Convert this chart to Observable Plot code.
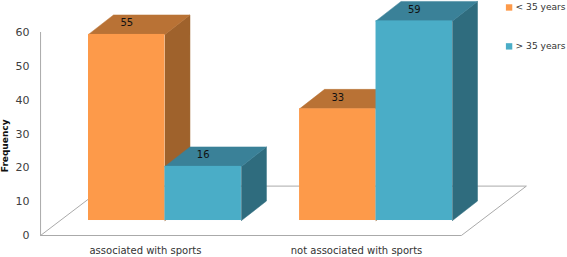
<!DOCTYPE html>
<html><head><meta charset="utf-8">
<script src="https://cdn.jsdelivr.net/npm/d3@7"></script>
<script src="https://cdn.jsdelivr.net/npm/@observablehq/plot@0.6"></script>
<style>html,body{margin:0;padding:0;background:#fff}svg{display:block}</style>
</head><body><div id="chart"></div>
<script>
const categories = ["associated with sports", "not associated with sports"];
const seriesNames = ["< 35 years", "> 35 years"];
const under35 = [55, 33];
const over35 = [16, 59];
const faceColors = ["#FD9A4A", "#4AADC7"];
const topColors = ["#B97235", "#3A8198"];
const sideColors = ["#9F622C", "#2F6C7E"];
const groupStarts = [0, 2.76];
const yTicks = [0, 10, 20, 30, 40, 50, 60];

// 3D projection constants, in data units
const lift = 4.43, depthX = 0.327, depthY = 5.76;
const floorX = [-0.627, 4.876, 5.726, 0.223];
const floorY = [0, 0, 14.6, 14.6];
const legendX = 5.5, legendTextX = 5.585, legendY = [67.4, 55.9];
const font = "'DejaVu Sans', sans-serif";

const bars = [];
categories.forEach((c, g) => {
  [under35, over35].forEach((vals, s) => {
    bars.push({g, s, v: vals[g], x0: groupStarts[g] + s, x1: groupStarts[g] + s + 1});
  });
});
const poly = (pts, fill) => Plot.line(pts, {x: "x", y: "y", fill, stroke: fill, strokeWidth: 0.5});
const faces = bars.flatMap(b => {
  const t = lift + b.v;
  return [
    poly([{x: b.x1, y: lift}, {x: b.x1 + depthX, y: lift + depthY}, {x: b.x1 + depthX, y: t + depthY}, {x: b.x1, y: t}, {x: b.x1, y: lift}], sideColors[b.s]),
    poly([{x: b.x0, y: t}, {x: b.x1, y: t}, {x: b.x1 + depthX, y: t + depthY}, {x: b.x0 + depthX, y: t + depthY}, {x: b.x0, y: t}], topColors[b.s]),
    Plot.rect([b], {x1: "x0", x2: "x1", y1: () => lift, y2: () => t, fill: faceColors[b.s]})
  ];
});
const floorPts = floorX.map((x, i) => ({x, y: floorY[i]}));
floorPts.push(floorPts[0]);

const chart = Plot.plot({
  width: 567, height: 257,
  marginLeft: 0, marginRight: 0, marginTop: 0, marginBottom: 0,
  style: {fontFamily: font, background: "#fff", overflow: "visible"},
  x: {type: "linear", domain: [0, 4.76], range: [88, 452], axis: null},
  y: {type: "linear", domain: [0, 60], range: [235, 32], axis: null},
  marks: [
    Plot.line(floorPts, {x: "x", y: "y", stroke: "#aaa", strokeWidth: 1}),
    Plot.ruleX([floorX[0]], {y1: 0, y2: 60, stroke: "#aaa", strokeWidth: 1}),
    Plot.axisY({ticks: yTicks, anchor: "left", x: floorX[0], tickSize: 0, tickPadding: 11, label: null, fontSize: 11, fill: "#404040", tickFormat: d => d}),
    Plot.text(["Frequency"], {x: -1.085, y: 26.5, text: d => d, rotate: -90, fontWeight: "bold", fontSize: 9, fill: "#111"}),
    ...faces,
    Plot.text(bars, {x: d => d.x0 + 0.5, y: d => lift + d.v + depthY / 2 + 0.5, text: "v", fontSize: 10, fill: "#111"}),
    Plot.text(categories, {x: (d, i) => groupStarts[i] + 0.745, y: -4.43, text: d => d, fontSize: 10, fill: "#333"}),
    Plot.dot(seriesNames, {x: legendX, y: (d, i) => legendY[i], symbol: "square", r: 3.6, fill: (d, i) => faceColors[i], stroke: "none"}),
    Plot.text(seriesNames, {x: legendTextX, y: (d, i) => legendY[i], text: d => d, textAnchor: "start", fontSize: 9.1, fill: "#333"})
  ]
});
document.getElementById("chart").append(chart);
</script></body></html>
